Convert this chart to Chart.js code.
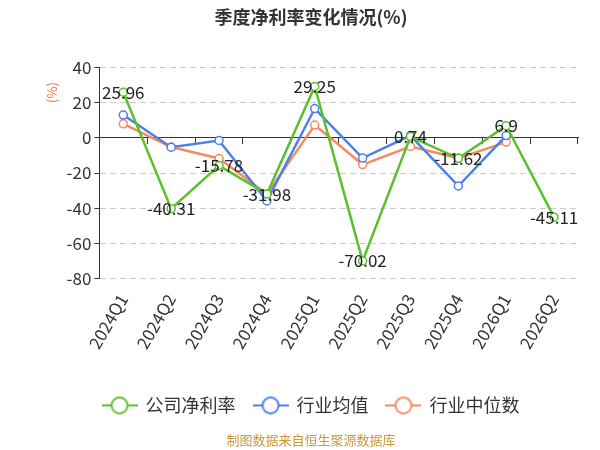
<!DOCTYPE html>
<html>
<head>
<meta charset="utf-8">
<script src="https://cdn.jsdelivr.net/npm/chart.js@4/dist/chart.umd.min.js"></script>
<style>
html, body { margin: 0; padding: 0; background: #fff; }
#wrap { width: 600px; height: 450px; }
</style>
</head>
<body>
<div id="wrap"><canvas id="c" width="600" height="450"></canvas></div>
<script>
var quarters = ["2024Q1", "2024Q2", "2024Q3", "2024Q4", "2025Q1", "2025Q2", "2025Q3", "2025Q4", "2026Q1", "2026Q2"];
var netMargin = [25.96, -40.31, -15.78, -31.98, 29.25, -70.02, 0.74, -11.62, 6.9, -45.11];
var indAvg = [13, -5.3, -1.5, -35.9, 16.7, -11.5, 1.3, -27.4, 1.3, null];
var indMed = [8, -5.2, -11.7, -32, 7.3, -15.2, -4.9, -11.5, -2.4, null];
var yTicks = [40, 20, 0, -20, -40, -60, -80];

var FONT = "'Noto Sans CJK SC', 'Noto Sans', sans-serif";

function legendIcon(col) {
    var cv = document.createElement("canvas");
    cv.width = 36; cv.height = 20;
    var g = cv.getContext("2d");
    g.strokeStyle = col;
    g.lineWidth = 2;
    g.beginPath(); g.moveTo(0, 10); g.lineTo(36, 10); g.stroke();
    g.fillStyle = "#fff";
    g.beginPath(); g.arc(18, 10, 8, 0, Math.PI * 2); g.fill(); g.stroke();
    return cv;
}

var ptLabels = {
    id: "ptLabels",
    afterDatasetsDraw: function (ch) {
        var meta = ch.getDatasetMeta(0);
        var g = ch.ctx;
        g.save();
        g.font = "17px " + FONT;
        g.fillStyle = "#222";
        g.textAlign = "center";
        g.textBaseline = "middle";
        meta.data.forEach(function (p, i) {
            g.fillText(String(netMargin[i]), p.x, p.y);
        });
        g.restore();
    }
};

function ds(label, data, col) {
    return {
        label: label,
        data: data,
        borderColor: col,
        backgroundColor: "#fff",
        borderWidth: 2.5,
        pointRadius: 4,
        pointBorderWidth: 1.5,
        pointBackgroundColor: "#fff",
        pointBorderColor: col,
        pointStyle: "circle",
        tension: 0
    };
}

var sets = [
    ds("公司净利率", netMargin, "#5ac02b"),
    ds("行业均值", indAvg, "#4e80e6"),
    ds("行业中位数", indMed, "#f68b5e")
];

new Chart(document.getElementById("c"), {
    type: "line",
    data: { labels: quarters, datasets: sets },
    plugins: [ptLabels],
    options: {
        responsive: false,
        animation: false,
        layout: { padding: { left: 44, right: 22, top: 0, bottom: 0 } },
        plugins: {
            title: {
                display: true,
                text: "季度净利率变化情况(%)",
                color: "#333",
                font: { size: 18, weight: "bold", family: FONT },
                padding: { top: 6, bottom: 40 }
            },
            subtitle: {
                display: true,
                position: "bottom",
                text: "制图数据来自恒生聚源数据库",
                color: "#c99a3e",
                font: { size: 13, family: FONT },
                padding: { top: 8, bottom: 2 }
            },
            legend: {
                position: "bottom",
                labels: {
                    color: "#333",
                    font: { size: 18, family: FONT },
                    usePointStyle: true,
                    pointStyleWidth: 34,
                    boxHeight: 18,
                    padding: 18,
                    generateLabels: function (ch) {
                        return ch.data.datasets.map(function (d, i) {
                            return {
                                text: d.label,
                                pointStyle: legendIcon(d.borderColor),
                                fontColor: "#333",
                                strokeStyle: d.borderColor,
                                fillStyle: "#fff",
                                lineWidth: 0,
                                datasetIndex: i
                            };
                        });
                    }
                }
            },
            tooltip: { enabled: false }
        },
        scales: {
            x: {
                offset: true,
                grid: { display: false },
                border: { display: false },
                ticks: {
                    color: "#333",
                    font: { size: 17, family: FONT },
                    maxRotation: 60,
                    minRotation: 60,
                    padding: 4
                },
                afterFit: function (ax) { ax.height += 22; }
            },
            x2: {
                axis: "x",
                position: { y: 0 },
                offset: true,
                labels: quarters,
                grid: { offset: true, drawOnChartArea: false, tickLength: 6, tickColor: "#333" },
                border: { display: true, color: "#333", width: 1 },
                ticks: { display: false }
            },
            y: {
                min: -80,
                max: 40,
                afterBuildTicks: function (ax) {
                    ax.ticks = yTicks.map(function (v) { return { value: v }; });
                },
                title: {
                    display: true,
                    text: "(%)     ",
                    color: "#f4743d",
                    align: "end",
                    font: { size: 13, family: FONT },
                    padding: { top: 0, bottom: 4 }
                },
                grid: {
                    color: "#cccccc",
                    tickColor: "#333",
                    tickLength: 5,
                    tickBorderDash: [],
                    lineWidth: 1
                },
                border: { display: true, color: "#333", width: 1, dash: [6, 4] },
                ticks: {
                    color: "#333",
                    font: { size: 17, family: FONT },
                    padding: 3
                }
            }
        }
    }
});
</script>
</body>
</html>
